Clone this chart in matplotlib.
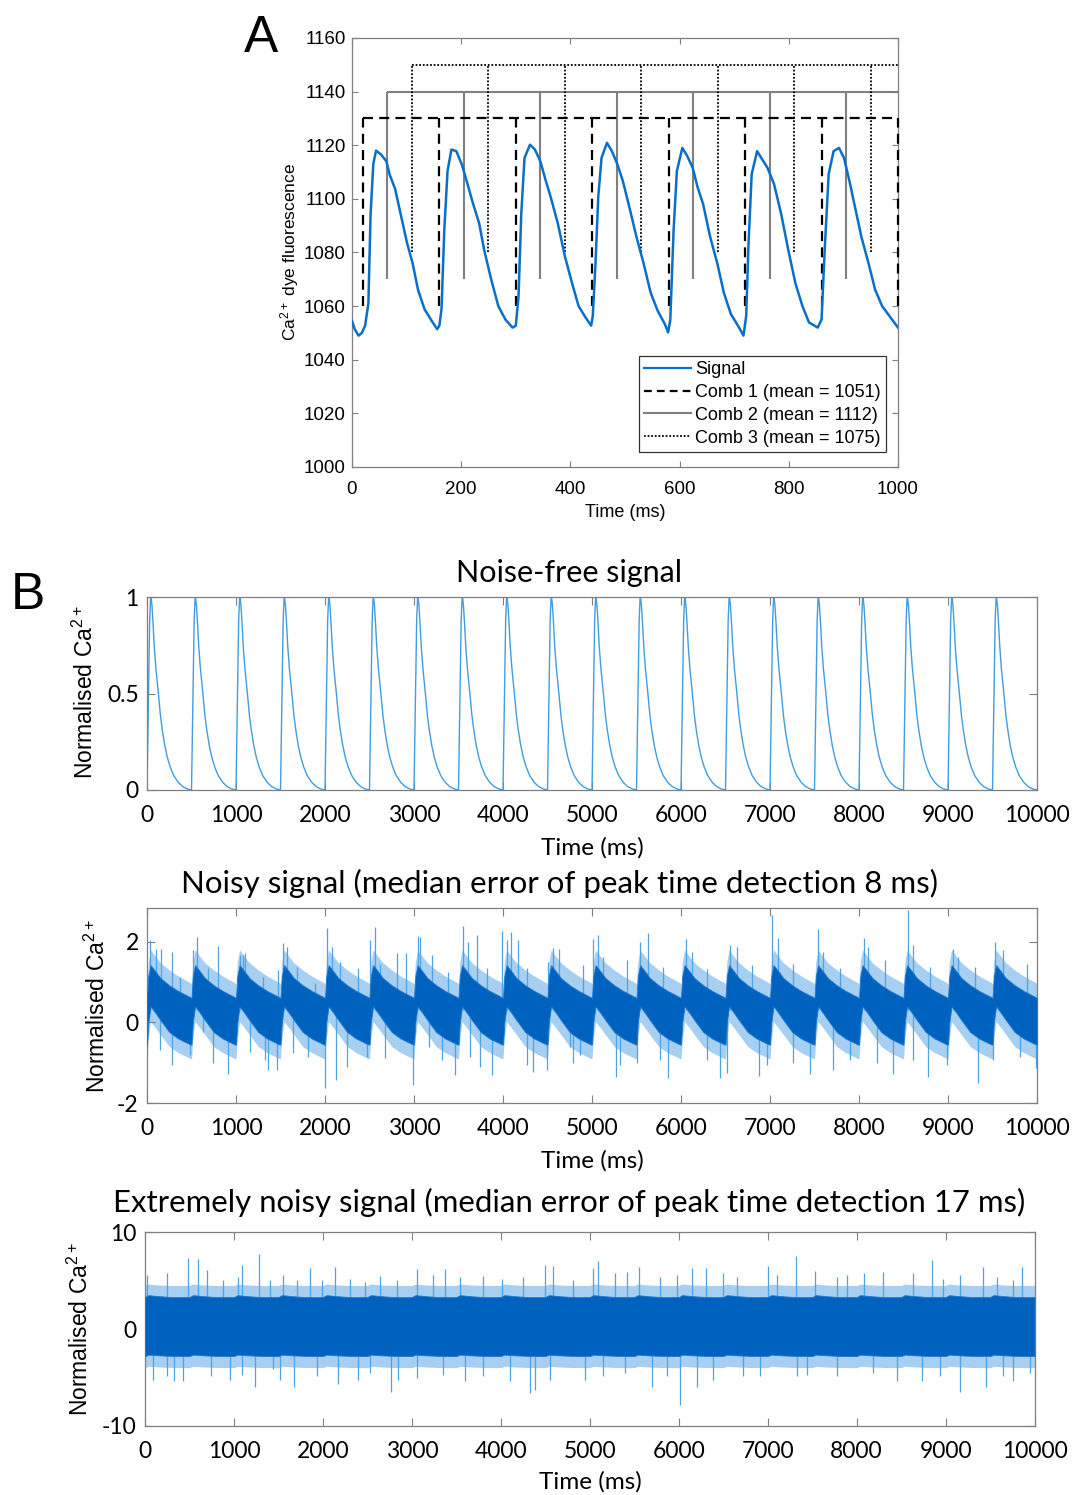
import numpy as np
import matplotlib
matplotlib.use('Agg')
import matplotlib.pyplot as plt
from matplotlib.lines import Line2D

# ---------------- DATA ----------------
# Panel A: measured signal (ms, fluorescence)
sigA_t = [0, 5, 12, 18, 24, 30, 34, 39, 44, 53, 63, 69, 79, 89, 101, 111, 121, 133, 146, 156,
          160, 164, 169, 175, 182, 191, 201, 210, 220, 233, 242, 255, 268, 281, 294, 300, 305,
          310, 316, 326, 335, 345, 355, 364, 377, 390, 403, 415, 428, 438, 441, 446, 451, 457,
          467, 476, 486, 496, 508, 521, 534, 547, 560, 573, 579, 583, 589, 595, 605, 614, 624,
          633, 643, 656, 669, 681, 694, 707, 717, 722, 726, 732, 742, 751, 761, 773, 786, 799,
          812, 825, 837, 853, 860, 866, 873, 882, 892, 901, 911, 920, 933, 946, 958, 971, 984, 1000]
sigA_v = [1054.5, 1051.4, 1049, 1050, 1052.7, 1061, 1094, 1113, 1118, 1116.6, 1114, 1109, 1103.7,
          1094.4, 1083.4, 1076, 1066, 1058.8, 1054.5, 1051.4, 1052.7, 1059, 1088.3, 1110.4, 1118.4,
          1117.8, 1112.9, 1106.7, 1099.4, 1090.8, 1081, 1069.9, 1060, 1055, 1052, 1052.7, 1063.7,
          1094.4, 1115.3, 1120.2, 1118.4, 1114, 1106.7, 1100.6, 1090.8, 1078.5, 1068.6, 1060, 1055.7,
          1052.7, 1056.4, 1076, 1100.6, 1115.3, 1120.9, 1117.8, 1112.9, 1106.7, 1096.9, 1085.8, 1076,
          1065, 1058.2, 1053.3, 1050.2, 1055, 1088.3, 1110.4, 1119, 1116, 1111.6, 1104.3, 1098.1,
          1085.8, 1076, 1065, 1057, 1052.7, 1049, 1056.4, 1082, 1109.2, 1117.8, 1114.8, 1111.6,
          1105.5, 1094.4, 1081, 1068.6, 1060, 1053.9, 1052, 1055, 1082, 1109.2, 1117.8, 1119, 1115.3,
          1106.7, 1098.1, 1085.8, 1076, 1066.2, 1060, 1056.4, 1052]

comb1_teeth = [20, 160, 300, 440, 580, 720, 860, 1000]
comb1_top, comb1_bottom = 1130, 1060
comb2_teeth = [65, 205, 345, 485, 625, 765, 905]
comb2_top, comb2_bottom = 1140, 1070
comb3_teeth = [110, 250, 390, 530, 670, 810, 950]
comb3_top, comb3_bottom = 1150, 1080
comb_end = 1000
legend_labels = ['Signal', 'Comb 1 (mean = 1051)', 'Comb 2 (mean = 1112)', 'Comb 3 (mean = 1075)']

# Panel B: cycle onsets (ms)
cycle_starts = [0, 500, 1000, 1500, 2000, 2500, 3000, 3500, 4000, 4500,
                5000, 5500, 6000, 6500, 7000, 7500, 8000, 8500, 9000, 9500]

# B1 noise-free: one cycle
b1_offsets = [0, 10, 20, 30, 40, 45, 55, 67, 82, 100, 128, 150, 172, 200, 228, 260, 300, 350, 400, 450, 500]
b1_values = [0, 0.3, 0.62, 0.88, 0.99, 1.0, 0.96, 0.87, 0.74, 0.63, 0.5, 0.39, 0.31, 0.23, 0.17,
             0.12, 0.075, 0.04, 0.018, 0.006, 0]

# B2 noisy: band read per cycle (dense core and lighter fringe) + individual excursions
b2_offsets = [0, 15, 40, 100, 150, 250, 350, 490, 500]
b2_core_hi = [0.6, 1.15, 1.42, 1.25, 1.1, 0.92, 0.78, 0.62, 0.6]
b2_core_lo = [-0.55, 0.0, 0.4, 0.22, 0.06, -0.24, -0.4, -0.55, -0.55]
b2_outer_hi = [0.95, 1.5, 1.8, 1.62, 1.48, 1.3, 1.15, 0.98, 0.95]
b2_outer_lo = [-0.9, -0.4, 0.02, -0.15, -0.3, -0.6, -0.75, -0.9, -0.9]
b2_up_t = [34, 101, 154, 285, 371, 521, 558, 689, 794, 1045, 1075, 1101, 1139, 1307, 1476, 1524,
           1569, 1682, 1888, 2018, 2075, 2169, 2375, 2506, 2561, 2618, 2813, 2906, 3048, 3067,
           3198, 3386, 3553, 3610, 3704, 3816, 3984, 4040, 4090, 4172, 4266, 4510, 4564, 4633,
           4903, 5015, 5071, 5127, 5390, 5539, 5633, 5801, 6056, 6120, 6289, 6550, 6626, 6794,
           7028, 7094, 7262, 7540, 7599, 7787, 8054, 8105, 8292, 8545, 8610, 8798, 9057, 9116,
           9303, 9533, 9621, 9884]
b2_up_v = [2.04, 1.81, 1.81, 1.75, 1.13, 1.79, 2.12, 1.34, 1.89, 1.67, 1.67, 1.71, 1.17, 1.13, 1.3,
           1.96, 1.88, 1.38, 0.97, 2.33, 1.88, 1.5, 1.34, 2.04, 2.37, 1.46, 1.73, 1.71, 2.14, 2.12,
           1.67, 1.26, 2.39, 2.0, 2.17, 1.34, 2.27, 2.04, 2.25, 2.04, 1.34, 1.5, 1.84, 1.81,
           1.42, 2.08, 2.17, 1.63, 1.55, 2.0, 2.21, 1.38, 2.06, 1.75, 1.32, 1.93, 1.88, 1.42,
           2.66, 2.1, 1.46, 2.31, 1.75, 1.34, 2.1, 1.88, 1.55, 2.8, 1.92, 1.38, 1.83, 1.63,
           1.38, 2.0, 1.79, 1.46]
b2_dn_t = [146, 277, 483, 633, 745, 914, 1157, 1326, 1363, 1457, 1644, 1813, 2000, 2124, 2244, 2469,
           2674, 2993, 3172, 3311, 3461, 3629, 3742, 3872, 4266, 4341, 4491, 4753, 4790, 4865,
           5270, 5315, 5502, 5764, 5857, 6289, 6438, 6513, 6880, 6963, 7262, 7449, 7711, 7899,
           8199, 8385, 8610, 8778, 8985, 9340, 9509, 9809, 9985]
b2_dn_v = [-0.69, -1.06, -0.81, -0.23, -1.02, -1.27, -0.73, -0.93, -1.19, -1.18, -0.77, -0.85, -1.64,
           -1.42, -1.1, -0.85, -0.89, -1.56, -0.6, -0.93, -1.31, -0.85, -1.1, -1.31, -1.06, -1.23,
           -1.18, -0.6, -1.02, -0.81, -1.35, -1.06, -1.01, -0.93, -1.39, -0.93, -1.39, -1.26,
           -1.33, -1.06, -1.01, -1.27, -1.18, -0.93, -1.01, -1.27, -0.93, -1.35, -1.06, -1.51,
           -0.93, -0.85, -1.13]

# B3 extremely noisy
b3_offsets = [0, 40, 150, 300, 500]
b3_core_hi = [3.3, 3.5, 3.4, 3.3, 3.3]
b3_core_lo = [-2.8, -2.65, -2.72, -2.78, -2.8]
b3_outer_hi = [4.5, 4.65, 4.55, 4.5, 4.5]
b3_outer_lo = [-4.0, -3.85, -3.92, -3.98, -4.0]
b3_up_t = [19, 244, 487, 592, 693, 880, 1049, 1094, 1285, 1405, 1548, 1705, 1855, 1986, 2136, 2304,
           2473, 2642, 2829, 3054, 3241, 3372, 3541, 3803, 4010, 4253, 4497, 4590, 4815, 5040,
           5096, 5283, 5414, 5553, 5789, 5977, 6146, 6303, 6501, 6651, 7007, 7101, 7318, 7531,
           7775, 7888, 8082, 8299, 8636, 8843, 8974, 9161, 9423, 9574, 9761, 9862]
b3_up_v = [5.58, 5.76, 7.3, 7.25, 6.1, 5.1, 5.35, 6.6, 7.8, 5.1, 5.6, 5.1, 6.3, 5.1, 6.4, 5.2,
           4.9, 5.5, 5.1, 6.2, 5.6, 6.2, 5.4, 5.5, 5.2, 5.4, 6.6, 6.5, 5.1, 6.3,
           7.0, 5.76, 5.9, 6.4, 5.4, 5.6, 6.3, 6.3, 5.76, 5.4, 6.5, 5.6, 7.6, 6.0,
           5.4, 5.6, 5.8, 5.9, 5.76, 7.1, 5.2, 5.6, 6.4, 5.4, 5.1, 6.4]
b3_dn_t = [94, 244, 326, 424, 742, 955, 1087, 1237, 1443, 1518, 1679, 1930, 2173, 2398, 2529, 2762,
           2848, 3054, 3353, 3597, 3803, 4103, 4328, 4384, 4553, 4946, 5152, 5396, 5696, 5864,
           6014, 6209, 6389, 6726, 6913, 7326, 7438, 7775, 8187, 8450, 8731, 8937, 9161, 9454,
           9648, 9754, 9948]
b3_dn_v = [-5.3, -4.9, -5.4, -5.4, -4.9, -5.3, -4.8, -6.0, -4.1, -5.3, -6.0, -4.9, -5.7, -5.3, -4.6,
           -6.5, -5.3, -5.1, -4.8, -5.4, -4.9, -5.4, -6.6, -6.3, -5.3, -5.3, -4.9, -4.6, -6.0,
           -4.9, -7.9, -6.0, -5.3, -4.9, -4.9, -4.9, -4.8, -4.9, -4.6, -5.4, -5.4, -4.9, -6.5,
           -6.0, -4.9, -5.4, -4.6]

titles = ['Noise-free signal',
          'Noisy signal (median error of peak time detection 8 ms)',
          'Extremely noisy signal (median error of peak time detection 17 ms)']
b_xticks = [0, 1000, 2000, 3000, 4000, 5000, 6000, 7000, 8000, 9000, 10000]

# ---------------- STYLE ----------------
plt.rcParams['font.family'] = ['Liberation Sans', 'DejaVu Sans']
plt.rcParams['mathtext.fontset'] = 'custom'
plt.rcParams['mathtext.rm'] = 'Liberation Sans'
plt.rcParams['mathtext.it'] = 'Liberation Sans:italic'
plt.rcParams['mathtext.bf'] = 'Liberation Sans:bold'
plt.rcParams['axes.unicode_minus'] = False
TFONT = 'Lato'
GREY = '#7f7f7f'

W, H = 1075, 1495
fig = plt.figure(figsize=(W / 100, H / 100), dpi=100)


def fax(l, t, r, b):
    return fig.add_axes([l / W, 1 - b / H, (r - l) / W, (b - t) / H])


def style_axes(ax, fs, font, tl, padx, pady):
    for s in ax.spines.values():
        s.set_color(GREY)
        s.set_linewidth(0.9)
    ax.tick_params(direction='in', length=tl, width=0.8, color=GREY, top=True, right=True,
                   labelsize=fs, labelcolor='black', labelfontfamily=font)
    ax.tick_params(axis='x', pad=padx)
    ax.tick_params(axis='y', pad=pady)


# ---------------- PANEL A ----------------
axA = fax(352, 38, 898, 467)
axA.plot(sigA_t, sigA_v, color='#0a6fc9', lw=1.8, zorder=4)
c1 = dict(colors='black', linewidths=1.6, linestyles=[(0, (4.5, 2.8))])
c2 = dict(colors='#808080', linewidths=1.5, linestyles='solid')
c3 = dict(colors='black', linewidths=1.3, linestyles=[(0, (1, 1))])
axA.vlines(comb1_teeth, comb1_bottom, comb1_top, clip_on=False, zorder=3, **c1)
axA.hlines(comb1_top, comb1_teeth[0], comb_end, zorder=3, **c1)
axA.vlines(comb2_teeth, comb2_bottom, comb2_top, zorder=2, **c2)
axA.hlines(comb2_top, comb2_teeth[0], comb_end, zorder=2, **c2)
axA.vlines(comb3_teeth, comb3_bottom, comb3_top, zorder=3, **c3)
axA.hlines(comb3_top, comb3_teeth[0], comb_end, zorder=3, **c3)
axA.set_xlim(0, 1000)
axA.set_ylim(1000, 1160)
axA.set_xticks(range(0, 1001, 200))
axA.set_yticks(range(1000, 1161, 20))
style_axes(axA, 13.5, 'Liberation Sans', 4, 10, 4.5)
handles = [Line2D([], [], color='#0a6fc9', lw=1.6),
           Line2D([], [], color='black', lw=1.6, linestyle=(0, (3.5, 2.3))),
           Line2D([], [], color='#808080', lw=1.5),
           Line2D([], [], color='black', lw=1.3, linestyle=(0, (1, 1)))]
leg = axA.legend(handles, legend_labels, loc='lower right', bbox_to_anchor=(0.978, 0.035),
                 borderaxespad=0, fontsize=13, handlelength=2.6, handletextpad=0.2,
                 labelspacing=0.32, borderpad=0.3, fancybox=False, framealpha=1)
leg.get_frame().set_edgecolor('#333333')
leg.get_frame().set_linewidth(0.9)
fig.text(625 / W, 1 - 512 / H, 'Time (ms)', ha='center', va='center', fontsize=13)
fig.text(290 / W, 1 - 252 / H, 'Ca$^{2+}$ dye fluorescence', ha='center', va='center',
         rotation=90, fontsize=12.5)
fig.text(244 / W, 1 - 52 / H, 'A', fontsize=37, ha='left', va='baseline')
fig.text(11 / W, 1 - 609 / H, 'B', fontsize=37, ha='left', va='baseline')


def tile(offsets, values):
    xs, ys = [], []
    for s in cycle_starts:
        xs.extend([s + o for o in offsets])
        ys.extend(values)
    return np.array(xs, float), np.array(ys, float)


def b_common(ax, yt, ylim):
    ax.set_xlim(0, 10000)
    ax.set_ylim(*ylim)
    ax.set_xticks(b_xticks)
    ax.set_yticks(yt)
    style_axes(ax, 16.5, TFONT, 6, 11, 6)


FRINGE = '#a6cff1'
CORE = '#0062bf'
SPK = '#4ea3e2'


def noisy(ax, offs, chi, clo, ohi, olo, ut, uv, dt, dv, base):
    xo, yh = tile(offs, ohi)
    _, yl = tile(offs, olo)
    ax.fill_between(xo, yl, yh, color=FRINGE, lw=0, zorder=1)
    ax.vlines(ut, base, uv, colors=SPK, linewidths=0.9, zorder=2)
    ax.vlines(dt, base, dv, colors=SPK, linewidths=0.9, zorder=2)
    xc, ch = tile(offs, chi)
    _, cl = tile(offs, clo)
    ax.fill_between(xc, cl, ch, color=CORE, lw=0.6, edgecolor='#1a78cf', zorder=3)


# ---------------- PANEL B1 ----------------
axB1 = fax(147, 597, 1037, 790)
x1, y1 = tile(b1_offsets, b1_values)
axB1.plot(x1, y1, color='#3f9de0', lw=1.0)
b_common(axB1, [0, 0.5, 1], (0, 1))
axB1.set_yticklabels(['0', '0.5', '1'])

# ---------------- PANEL B2 ----------------
axB2 = fax(147, 908.3, 1037, 1103)
noisy(axB2, b2_offsets, b2_core_hi, b2_core_lo, b2_outer_hi, b2_outer_lo,
      b2_up_t, b2_up_v, b2_dn_t, b2_dn_v, 0.3)
b_common(axB2, [-2, 0, 2], (-2, 2.83))

# ---------------- PANEL B3 ----------------
axB3 = fax(145, 1232.3, 1034.6, 1425.7)
noisy(axB3, b3_offsets, b3_core_hi, b3_core_lo, b3_outer_hi, b3_outer_lo,
      b3_up_t, b3_up_v, b3_dn_t, b3_dn_v, 0.3)
b_common(axB3, [-10, 0, 10], (-10, 10))

# ---------------- B texts ----------------
ylab = 'Normalised Ca$^{2+}$'
for (xc_, yc_) in [(85, 692), (97, 1006), (80, 1329)]:
    fig.text(xc_ / W, 1 - yc_ / H, ylab, rotation=90, ha='center', va='center', fontsize=16.5)
for (xc_, yc_) in [(592, 848), (592, 1161), (590, 1482)]:
    fig.text(xc_ / W, 1 - yc_ / H, 'Time (ms)', ha='center', va='center', fontsize=17.5,
             fontfamily=TFONT)

renderer = fig.canvas.get_renderer()
for txt, cx, base, width in zip(titles, [568.5, 559.5, 569.5], [582, 893, 1212], [227, 757, 915]):
    t = fig.text(cx / W, 1 - base / H, txt, ha='center', va='baseline', fontsize=20, fontfamily=TFONT)
    w = t.get_window_extent(renderer).width
    t.set_fontsize(20 * width / w)

fig.savefig('out.png', dpi=100)
